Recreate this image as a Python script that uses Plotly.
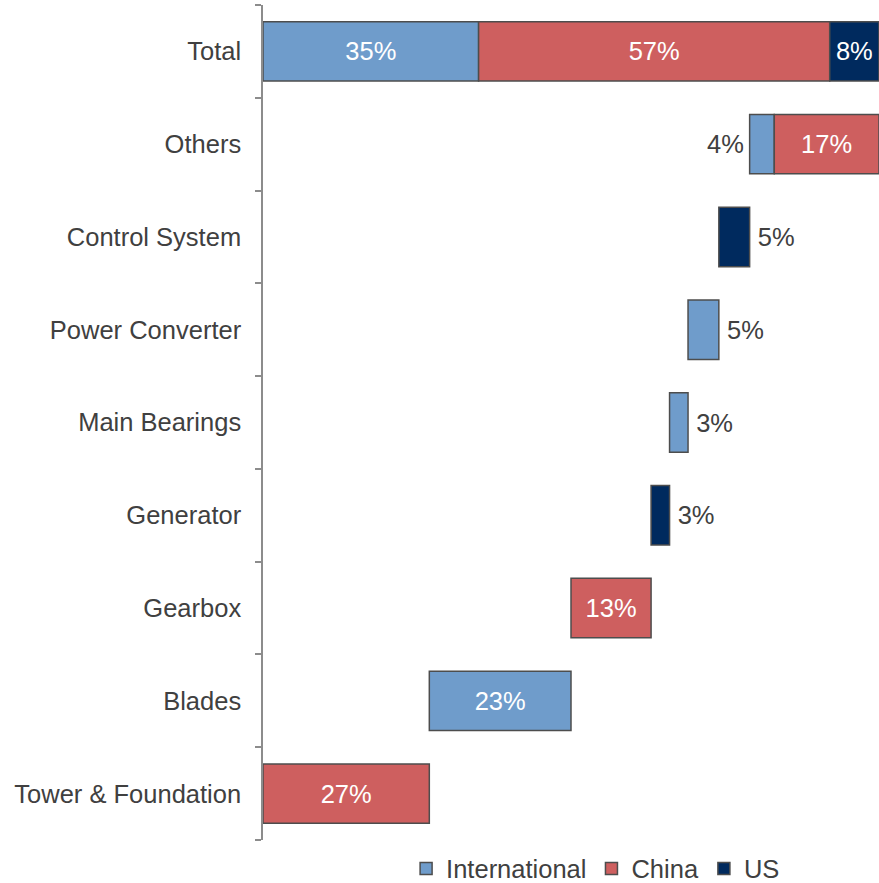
import plotly.graph_objects as go

# categories listed from top to bottom, as in the chart
categories = [
    "Total",
    "Others",
    "Control System",
    "Power Converter",
    "Main Bearings",
    "Generator",
    "Gearbox",
    "Blades",
    "Tower & Foundation",
]
# component shares (%) by supplier origin
international = [35, 4, 0, 5, 3, 0, 0, 23, 0]
china = [57, 17, 0, 0, 0, 0, 13, 0, 27]
us = [8, 0, 5, 0, 0, 3, 0, 0, 0]

series = [
    ("International", international, "#6F9CCB"),
    ("China", china, "#CE5F5F"),
    ("US", us, "#002A5E"),
]

FONT_SIZE = 25.5

# waterfall bases: components climb from the bottom, Total starts at zero
n = len(categories)
bases = {name: [0] * n for name, _, _ in series}
running = 0
for i in reversed(range(n)):
    start = 0 if categories[i] == "Total" else running
    pos = start
    for name, vals, _ in series:
        bases[name][i] = pos
        pos += vals[i]
    if categories[i] != "Total":
        running = pos

fig = go.Figure()
for name, vals, color in series:
    idx = [i for i in range(n) if vals[i] > 0]
    text = []
    pos = []
    for i in idx:
        if vals[i] >= 8 or categories[i] == "Total":
            text.append(f"{vals[i]}%")
            pos.append("inside")
        elif categories[i] == "Others":
            text.append("")
            pos.append("none")
        else:
            text.append(f"\u2009{vals[i]}%")
            pos.append("outside")
    fig.add_trace(
        go.Bar(
            name=name,
            orientation="h",
            y=idx,
            x=[vals[i] for i in idx],
            base=[bases[name][i] for i in idx],
            width=0.64,
            marker=dict(color=color, line=dict(color="#4d4d4d", width=1.5)),
            text=text,
            textposition=pos,
            insidetextanchor="middle",
            insidetextfont=dict(color="white", size=FONT_SIZE),
            outsidetextfont=dict(color="#404040", size=FONT_SIZE),
            textangle=0,
            cliponaxis=False,
        )
    )

# label of the small International slice in "Others" sits to its left
oi = categories.index("Others")
fig.add_annotation(
    x=bases["International"][oi],
    y=oi,
    text=f"{international[oi]}%",
    showarrow=False,
    xanchor="right",
    xshift=-4,
    font=dict(color="#404040", size=FONT_SIZE),
)

fig.update_layout(
    width=879,
    height=883,
    margin=dict(l=263, r=0, t=5, b=43),
    barmode="overlay",
    plot_bgcolor="white",
    paper_bgcolor="white",
    font=dict(family="Liberation Sans, Arial, sans-serif", color="#404040"),
    showlegend=True,
    legend=dict(
        orientation="h",
        xref="container",
        yref="container",
        x=0.462,
        xanchor="left",
        y=0.016,
        yanchor="middle",
        font=dict(size=FONT_SIZE, color="#404040"),
        itemwidth=30,
        traceorder="normal",
    ),
)
fig.update_xaxes(range=[0, 100], visible=False)
fig.update_yaxes(
    range=[n - 0.5, -0.5],
    tickmode="array",
    tickvals=list(range(n)),
    ticktext=categories,
    ticks="",
    tickfont=dict(size=FONT_SIZE, color="#404040"),
    ticklabelstandoff=15,
    showline=True,
    linecolor="#8c8c8c",
    linewidth=1.5,
    showgrid=False,
    zeroline=False,
    minor=dict(
        tickvals=[i - 0.5 for i in range(n + 1)],
        ticks="outside",
        ticklen=6,
        tickcolor="#8c8c8c",
        tickwidth=1.5,
        showgrid=False,
    ),
)

# drop the default page margin so the figure fills the window exactly
fig.write_html(
    "out.html",
    config={"displayModeBar": False},
    post_script="document.body.style.margin='0';",
)
